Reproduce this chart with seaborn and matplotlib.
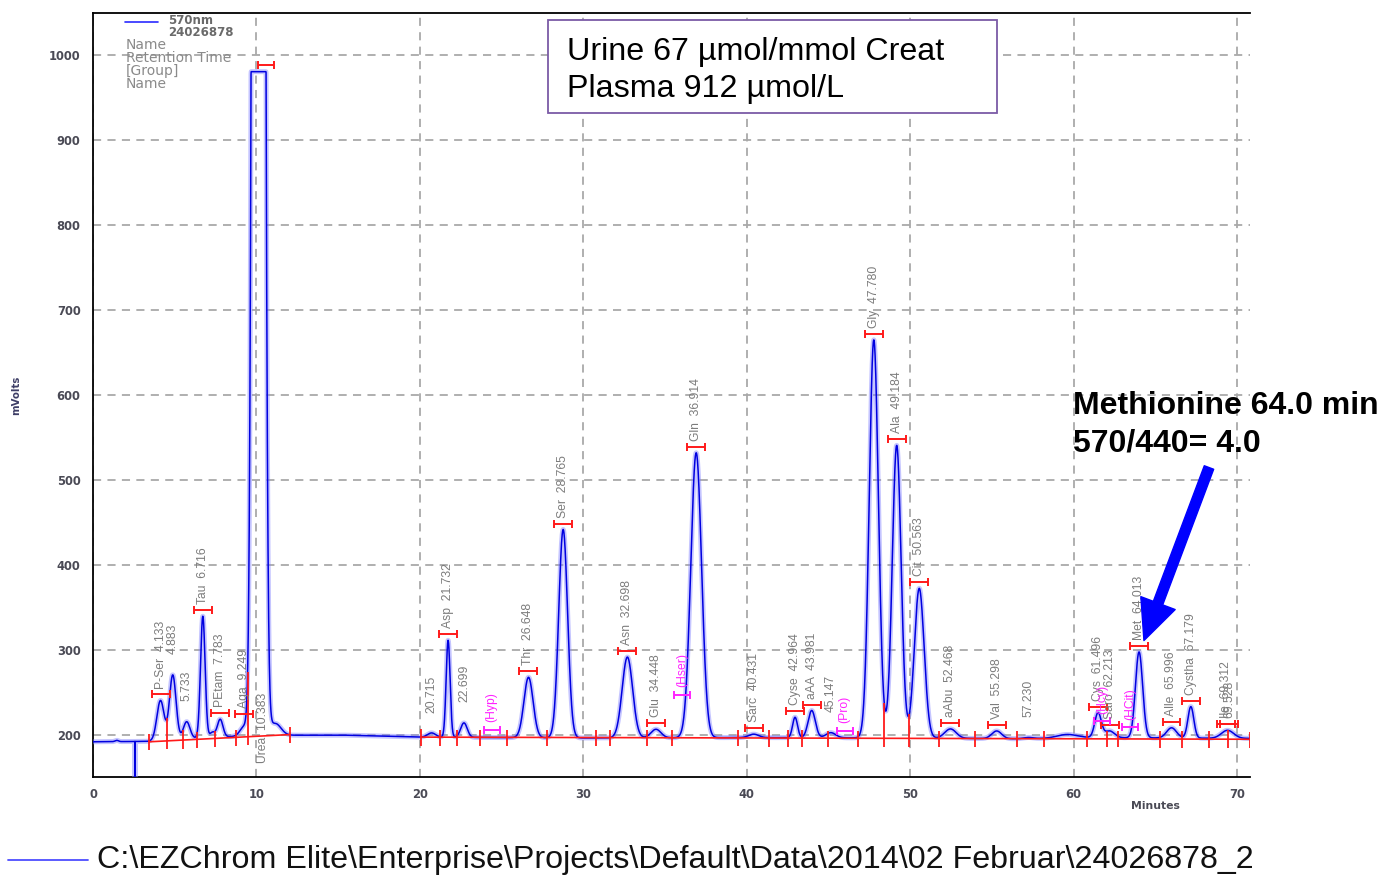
import numpy as np
import pandas as pd
import matplotlib
matplotlib.use("Agg")
import matplotlib.pyplot as plt
import seaborn as sns
from matplotlib import font_manager as fm
from matplotlib.ticker import MultipleLocator
from matplotlib.transforms import Bbox, TransformedBbox
from matplotlib.patches import Rectangle
from matplotlib.lines import Line2D

# ---------------- data ----------------
# peaks of the 570 nm trace: retention time (min), height above baseline (mV), width (min)
peak_rt = [1.45, 4.13, 4.88, 5.73, 6.72, 7.30, 7.78, 9.25, 10.13, 11.15, 20.72, 21.73,
           22.70, 26.65, 28.77, 32.70, 34.45, 36.91, 40.43, 42.96, 43.98, 45.15, 47.78,
           49.18, 50.56, 52.47, 55.30, 57.23, 59.60, 61.50, 62.20, 64.01, 66.00, 67.18,
           69.30, 69.55]
peak_height = [1.5, 47, 76, 20, 143, 6, 21, 11, 6900, 14, 5, 114,
               17, 71, 245, 95, 10, 335, 4, 24, 32, 6, 468,
               344, 176, 11, 9, 1.5, 4, 29, 8, 101, 12, 37,
               5, 5]
peak_sigma = [0.1, 0.22, 0.2, 0.2, 0.14, 0.15, 0.17, 0.25, 0.22, 0.35, 0.25, 0.12,
              0.2, 0.28, 0.27, 0.32, 0.3, 0.33, 0.3, 0.15, 0.22, 0.3, 0.28,
              0.27, 0.3, 0.35, 0.3, 0.3, 0.6, 0.2, 0.3, 0.22, 0.3, 0.18,
              0.35, 0.35]
# drifting detector baseline
base_t = [0, 3.3, 6.0, 10.0, 15.0, 20.0, 30.0, 40.0, 50.0, 57.0, 60.5, 70.8]
base_v = [192, 192.5, 196, 199.5, 200, 197.5, 196.5, 197, 196.5, 195.5, 197, 196]
detector_max = 980          # saturated urea peak
spike_t = [2.57]            # injection spike
spike_v = [140]

# integration baselines (red)
int_seg1_t = [3.44, 12.05]
int_seg1_v = [192, 200.5]
int_seg2_t = [20.05, 70.8]
int_seg2_v = [197.5, 195]
int_marks = [3.44, 4.54, 5.49, 6.34, 7.47, 8.73, 9.46, 12.05, 20.05, 21.23, 22.29, 23.68,
             25.31, 27.76, 30.78, 31.63, 33.92, 35.41, 39.49, 41.36, 42.54, 43.36, 44.99,
             46.82, 48.42, 49.95, 51.76, 53.97, 56.52, 58.19, 60.80, 62.06, 62.74, 65.29,
             66.62, 68.31, 69.43, 70.8]

# identified peak labels
label_names = ["P-Ser", "", "", "Tau", "PEtam", "Aga", "Asp", "", "", "Thr", "Ser", "Asn",
               "Glu", "Gln", "Sarc", "Cyse", "aAA", "", "Gly", "Ala", "Cit", "aAbu", "Val",
               "", "Cys", "Saro", "Met", "Alle", "Cystha", "Ile", ""]
label_rt = [4.133, 4.883, 5.733, 6.716, 7.783, 9.249, 21.732, 20.715, 22.699, 26.648,
            28.765, 32.698, 34.448, 36.914, 40.431, 42.964, 43.981, 45.147, 47.780,
            49.184, 50.563, 52.468, 55.298, 57.230, 61.496, 62.213, 64.013, 65.996,
            67.179, 69.312, 69.528]
label_bracket = [1, 0, 0, 1, 1, 1, 1, 0, 0, 1, 1, 1, 1, 1, 1, 1, 1, 0, 1, 1, 1, 1, 1,
                 0, 1, 1, 1, 1, 1, 1, 1]
urea_name = "Urea"
urea_rt = 10.383

# expected but not found (magenta)
missing_names = ["(Hyp)", "(Hser)", "(Pro)", "(Hcy)", "(HCit)"]
missing_rt = [24.40, 36.05, 46.00, 61.75, 63.45]
missing_level = [206, 247, 205, 216, 209]

# ---------------- build the trace ----------------
t = np.round(np.arange(0, 70.805, 0.01), 2)
sig = np.interp(t, base_t, base_v)
for rt, h, s in zip(peak_rt, peak_height, peak_sigma):
    sig = sig + h * np.exp(-0.5 * ((t - rt) / s) ** 2)
sig = np.minimum(sig, detector_max)
for st, sv in zip(spike_t, spike_v):
    sig[np.argmin(np.abs(t - st))] = sv
df = pd.DataFrame({"Minutes": t, "mVolts": sig})


def apex(rt):
    m = (t >= rt - 0.08) & (t <= rt + 0.08)
    return sig[m].max()


def trace_at(x):
    return float(np.interp(x, t, sig))


# ---------------- figure ----------------
sns.set_style("white")
plt.rcParams["font.family"] = ["Liberation Sans", "DejaVu Sans"]
names = {f.name for f in fm.fontManager.ttflist}
narrow = "Liberation Sans Narrow" if "Liberation Sans Narrow" in names else "Liberation Sans"
lab_size = 10 if narrow == "Liberation Sans Narrow" else 8.7

W, H = 1395, 875
fig = plt.figure(figsize=(W / 100, H / 100), dpi=100)
fig.patch.set_facecolor("white")
ax = fig.add_axes([93 / W, 1 - 777 / H, (1250 - 93) / W, (777 - 13) / H])

sns.lineplot(data=df, x="Minutes", y="mVolts", ax=ax, color="#8080ff", lw=3.6,
             alpha=0.45, estimator=None, zorder=3)
sns.lineplot(data=df, x="Minutes", y="mVolts", ax=ax, color="#0000e0", lw=1.1,
             estimator=None, zorder=4)

ax.set_xlim(0, 70.8)
ax.set_ylim(150.6, 1049)
ax.set_xlabel("")
ax.set_ylabel("")

tick_col = "#4a4a55"
ax.set_xticks(range(0, 71, 10), labels=[str(v) for v in range(0, 71, 10)],
              fontweight="bold", family="DejaVu Sans", fontsize=8.3, color=tick_col)
ax.set_yticks(range(200, 1001, 100), labels=[str(v) for v in range(200, 1001, 100)],
              fontweight="bold", family="DejaVu Sans", fontsize=8.3, color=tick_col)
ax.xaxis.set_minor_locator(MultipleLocator(1))
ax.yaxis.set_minor_locator(MultipleLocator(10))
ax.tick_params(axis="x", which="major", direction="out", length=6, width=1.1, color="black", pad=2)
ax.tick_params(axis="y", which="major", direction="out", length=6, width=1.1, color="black", pad=3)
ax.tick_params(which="minor", direction="out", length=3.5, width=1.0, color="black")
ax.grid(True, which="major", ls=(0, (4.5, 3.5)), color="#a9a9a9", lw=1.3, zorder=1)
for side in ["left", "bottom", "top"]:
    ax.spines[side].set_visible(True)
    ax.spines[side].set_color("black")
    ax.spines[side].set_linewidth(1.3)
ax.spines["right"].set_visible(False)

# integration baselines and boundary marks
red = "#ff1a1a"
ax.plot(int_seg1_t, int_seg1_v, color=red, lw=1.2, zorder=5)
ax.plot(int_seg2_t, int_seg2_v, color=red, lw=1.2, zorder=5)


def red_base(x):
    if x <= int_seg1_t[1] + 0.01:
        return float(np.interp(x, int_seg1_t, int_seg1_v))
    return float(np.interp(x, int_seg2_t, int_seg2_v))


for m in int_marks:
    b = red_base(m)
    ax.vlines(m, b - 10, max(trace_at(m), b + 9), color=red, lw=1.3, zorder=5)

# identified peak labels and brackets
lab_col = "#7c7c7c"
for nm, rt, br in zip(label_names, label_rt, label_bracket):
    a = apex(rt)
    if br:
        ax.errorbar(rt, a + 7, xerr=0.55, fmt="none", ecolor=red, elinewidth=1.4,
                    capsize=3.2, capthick=1.4, zorder=6)
        ly = a + 14
    else:
        ly = a + 24
    txt = f"{nm}  {rt:.3f}" if nm else f"{rt:.3f}"
    ax.text(rt, ly, txt, rotation=90, ha="center", va="bottom", fontsize=lab_size,
            color=lab_col, family=narrow, zorder=7)

# urea (saturated) peak
ax.errorbar(urea_rt + 0.2, detector_max + 8, xerr=0.5, fmt="none", ecolor=red,
            elinewidth=1.4, capsize=3.2, capthick=1.4, zorder=6)
ax.text(urea_rt, 167, f"{urea_name}  {urea_rt:.3f}", rotation=90, ha="center",
        va="bottom", fontsize=lab_size, color=lab_col, family=narrow, zorder=7)

# missing peaks (magenta)
mag = "#ff22ff"
for nm, rt, lv in zip(missing_names, missing_rt, missing_level):
    ax.errorbar(rt, lv, xerr=0.5, fmt="none", ecolor=mag, elinewidth=1.4,
                capsize=3.2, capthick=1.4, zorder=6)
    ax.text(rt, lv + 9, nm, rotation=90, ha="center", va="bottom", fontsize=lab_size,
            color=mag, family=narrow, zorder=7)

# arrow to methionine
ax.annotate("", xy=(64.25, 308), xytext=(68.35, 517.6),
            arrowprops=dict(arrowstyle="simple,head_length=1.2,head_width=1.1,tail_width=0.3",
                            fc="#0000ff", ec="#0000ff", mutation_scale=24),
            annotation_clip=False, zorder=8)

# axis titles
fig.text(1155 / W, 1 - 806 / H, "Minutes", ha="center", va="center", fontsize=7.8,
         fontweight="bold", family="DejaVu Sans", color=tick_col)
fig.text(16 / W, 1 - 395 / H, "mVolts", ha="center", va="center", rotation=90,
         fontsize=7.3, fontweight="bold", family="DejaVu Sans", color="#3e3e66")

# legend block at top-left
fig.add_artist(Line2D([125 / W, 158 / W], [1 - 22 / H, 1 - 22 / H], color="#2a2aff", lw=1.2))
leg_col = "#8a8a8a"
fig.text(168 / W, 1 - 20 / H, "570nm", ha="left", va="center", fontsize=8.5,
         fontweight="bold", family="DejaVu Sans", color="#6a6a6a")
fig.text(168 / W, 1 - 33 / H, "24026878", ha="left", va="center", fontsize=8.5,
         fontweight="bold", family="DejaVu Sans", color="#6a6a6a")
for i, s in enumerate(["Name", "Retention Time", "[Group]", "Name"]):
    fig.text(126 / W, 1 - (45 + 13 * i) / H, s, ha="left", va="center", fontsize=10,
             family="DejaVu Sans", color=leg_col)

# info box
fig.add_artist(Rectangle((548 / W, 1 - 113 / H), 449 / W, 93 / H, transform=fig.transFigure,
                         facecolor="white", edgecolor="#7b5aa6", lw=1.3, zorder=5))
fig.text(567 / W, 1 - 60 / H, "Urine 67 µmol/mmol Creat", ha="left", va="baseline",
         fontsize=23.2, color="black", zorder=6)
fig.text(567 / W, 1 - 97 / H, "Plasma 912 µmol/L", ha="left", va="baseline",
         fontsize=23.2, color="black", zorder=6)

# methionine annotation
fig.text(1073 / W, 1 - 414 / H, "Methionine 64.0 min", ha="left", va="baseline",
         fontsize=23, fontweight="bold", color="black", zorder=6)
fig.text(1073 / W, 1 - 451 / H, "570/440= 4.0", ha="left", va="baseline",
         fontsize=23, fontweight="bold", color="black", zorder=6)

# file path footer
fig.add_artist(Line2D([8 / W, 88 / W], [1 - 860 / H, 1 - 860 / H], color="#4d4dff", lw=1.3))
ft = fig.text(97 / W, 1 - 868 / H,
              "C:\\EZChrom Elite\\Enterprise\\Projects\\Default\\Data\\2014\\02 Februar\\24026878_2014_02",
              ha="left", va="baseline", fontsize=23.2, color="#111111")
ft.set_clip_box(TransformedBbox(Bbox.from_extents(0, 0, 1252 / W, 1), fig.transFigure))
ft.set_clip_on(True)

fig.savefig("out.png", dpi=100)
